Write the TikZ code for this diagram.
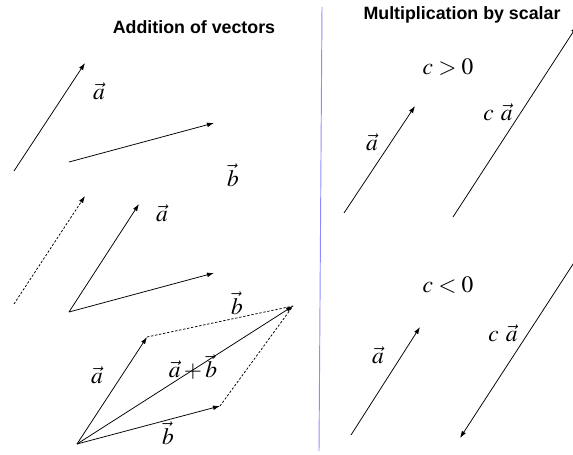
\documentclass[tikz,border=0pt]{standalone}
\usepackage{mathptmx}
\usepackage{fontspec}
\setsansfont{Liberation Sans}
\definecolor{divblue}{HTML}{8C8CFF}
\usetikzlibrary{arrows.meta}

\begin{document}
\begin{tikzpicture}[
  x=0.03cm, y=-0.03cm,
  >={Latex[length=6pt,width=4pt]},
  every node/.style={font=\fontsize{20}{24}\selectfont},
  vec/.style={->,line width=0.65pt},
  aux/.style={line width=0.65pt,dash pattern=on 2pt off 1.5pt},
  heading/.style={font=\sffamily\bfseries\fontsize{15.2}{18}\selectfont}
]
  \useasboundingbox (0,0) rectangle (573,454);
  \node[heading] (addtitle) at (194,27) {Addition of vectors};
  \node[heading] (multitle) at (462,15) {Multiplication by scalar};
  \coordinate (divtop) at (322,7);
  \coordinate (divbot) at (319,451);
  \draw[divblue,line width=0.8pt] (divtop) -- (divbot);

  % two free vectors
  \coordinate (a1s) at (14,171);  \coordinate (a1e) at (85,63);
  \coordinate (b1s) at (69,162);  \coordinate (b1e) at (214,123);
  \draw[vec] (a1s) -- (a1e);
  \draw[vec] (b1s) -- (b1e);
  \node (alab1) at (99,91) {$\vec a$};
  \node (blab1) at (233,175) {$\vec b$};

  % moved to a common tail
  \coordinate (a2s) at (14,304);  \coordinate (a2e) at (85,196);
  \coordinate (o2) at (69,312);
  \coordinate (a3e) at (139,204); \coordinate (b3e) at (214,273);
  \draw[vec,aux] (a2s) -- (a2e);
  \draw[vec] (o2) -- (a3e);
  \draw[vec] (o2) -- (b3e);
  \node (alab2) at (162,213) {$\vec a$};
  \node (blab2) at (237,303) {$\vec b$};

  % parallelogram
  \coordinate (o3) at (77,444);
  \coordinate (pa) at (147,337);
  \coordinate (pb) at (220,406);
  \coordinate (ps) at (293,306);
  \draw[vec] (o3) -- (pa);
  \draw[vec] (o3) -- (pb);
  \draw[vec] (o3) -- (ps);
  \draw[aux] (pa) -- (ps);
  \draw[aux] (pb) -- (ps);
  \node (alab3) at (97,375) {$\vec a$};
  \node (sumlab) at (193,367) {$\vec a+\vec b$};
  \node (blab3) at (168,433) {$\vec b$};

  % c > 0
  \node (cpos) at (448,67) {$c>0$};
  \coordinate (pas) at (344,213); \coordinate (pae) at (415,106);
  \coordinate (pcs) at (453,217); \coordinate (pce) at (577,26);
  \draw[vec] (pas) -- (pae);
  \draw[vec] (pcs) -- (pce);
  \node (alab4) at (372,142) {$\vec a$};
  \node (calab1) at (498,112) {$c\ \vec a$};

  % c < 0
  \node (cneg) at (448,285) {$c<0$};
  \coordinate (nas) at (351,435); \coordinate (nae) at (420,327);
  \coordinate (ncs) at (577,258); \coordinate (nce) at (460,438);
  \draw[vec] (nas) -- (nae);
  \draw[vec] (ncs) -- (nce);
  \node (alab5) at (378,355) {$\vec a$};
  \node (calab2) at (503,333) {$c\ \vec a$};
\end{tikzpicture}
\end{document}
